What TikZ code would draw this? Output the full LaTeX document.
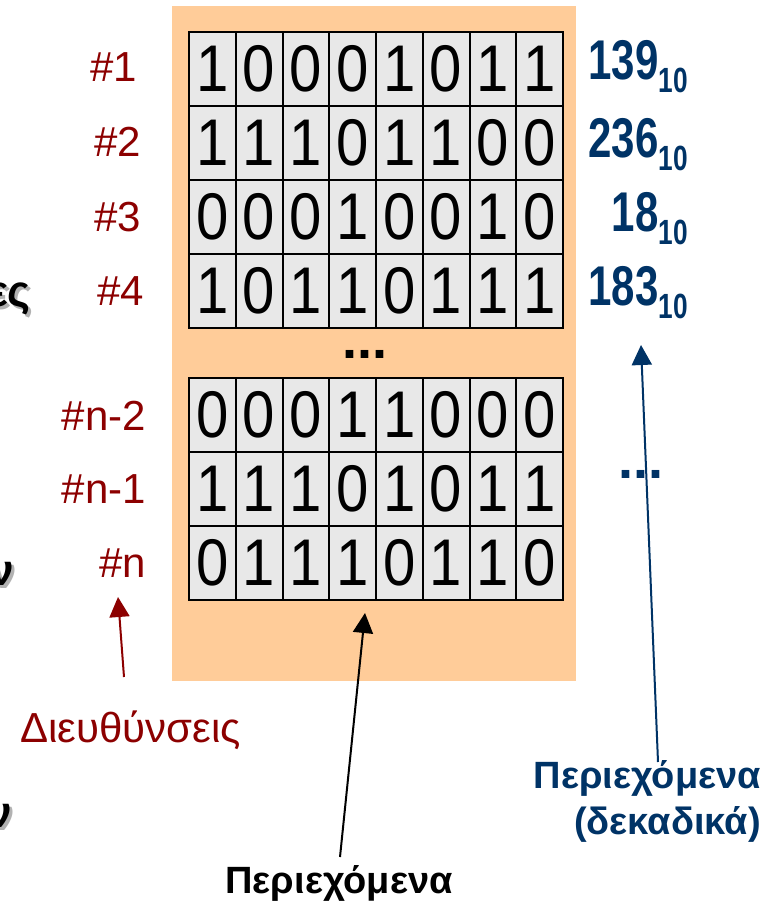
\documentclass[tikz,border=0pt]{standalone}
\usepackage{fontspec}
\setmainfont{Liberation Sans}
\newfontfamily\narrowfont{Liberation Sans}[FakeStretch=0.75]
\newfontfamily\bitfont{Liberation Sans}[FakeStretch=0.88]
\usepackage{tikz}
\usetikzlibrary{arrows.meta, positioning, calc}

\definecolor{addrred}{RGB}{140,0,0}
\definecolor{decblue}{RGB}{0,51,102}
\definecolor{memback}{RGB}{255,204,153}
\definecolor{cellgray}{RGB}{232,232,232}

\begin{document}
\begin{tikzpicture}[
        x=1pt, y=-1pt,
        bit/.style={
            rectangle,
            draw=black,
            fill=cellgray,
            line width=2pt,
            minimum width=46.75pt,
            minimum height=74pt,
            inner sep=0pt,
            font=\bitfont\fontsize{66}{66}\selectfont
        },
        addr/.style={
            anchor=base east,
            inner sep=0pt,
            text=addrred,
            font=\fontsize{42}{42}\selectfont
        },
        dec/.style={
            anchor=base east,
            inner sep=0pt,
            text=decblue,
            font=\narrowfont\bfseries\fontsize{56}{56}\selectfont
        },
        caption/.style={
            inner sep=0pt,
            font=\bfseries\fontsize{38}{38}\selectfont
        },
        cut/.style={
            anchor=base east,
            inner sep=0pt,
            font=\bfseries\fontsize{44}{44}\selectfont
        },
        pointer/.style={
            -{Triangle[length=20pt, width=20pt]},
            line width=2pt
        }
    ]

    \useasboundingbox (0,0) rectangle (772,901);

    % words cut off at the left edge
    \begin{scope}
        \clip (0,0) rectangle (772,901);
        \foreach \xx/\yy/\txt/\name in {31/306/ες/cuta, 14/585/ν/cutb, 12/827/ν/cutc} {
            \node[cut, text=black!30] at (\xx+3,\yy+3) {\txt};
            \node[cut] (\name) at (\xx,\yy) {\txt};
        }
    \end{scope}

    % memory block
    \fill[memback] (172,6) rectangle (576,681);

    \foreach \r/\yy/\bits in {1/69/{1,0,0,0,1,0,1,1},
                              2/143/{1,1,1,0,1,1,0,0},
                              3/217/{0,0,0,1,0,0,1,0},
                              4/291/{1,0,1,1,0,1,1,1},
                              5/415/{0,0,0,1,1,0,0,0},
                              6/489/{1,1,1,0,1,0,1,1},
                              7/563/{0,1,1,1,0,1,1,0}} {
        \foreach \b [count=\c] in \bits {
            \node[bit] (cell-\r-\c) at ({189+23.375+46.75*(\c-1)},\yy) {\b};
        }
    }

    \node[font=\bfseries\fontsize{54}{54}\selectfont, inner sep=0pt] (gap) at (365,354) {...};

    % addresses
    \node[addr] (a1) at (137,82)  {\#1};
    \node[addr] (a2) at (141,157) {\#2};
    \node[addr] (a3) at (141,232) {\#3};
    \node[addr] (a4) at (144,305) {\#4};
    \node[addr] (a5) at (146,430) {\#n-2};
    \node[addr] (a6) at (146,503) {\#n-1};
    \node[addr] (a7) at (146,577) {\#n};

    % decimal contents
    \node[dec] (d1) at (688,80)  {139\raisebox{-13pt}{\fontsize{35}{35}\selectfont 10}};
    \node[dec] (d2) at (688,158) {236\raisebox{-13pt}{\fontsize{35}{35}\selectfont 10}};
    \node[dec] (d3) at (688,232) {18\raisebox{-13pt}{\fontsize{35}{35}\selectfont 10}};
    \node[dec] (d4) at (688,305) {183\raisebox{-13pt}{\fontsize{35}{35}\selectfont 10}};
    \node[font=\bfseries\fontsize{54}{54}\selectfont, text=decblue, inner sep=0pt] (dgap) at (641,474) {...};

    % captions
    \node[anchor=base west, inner sep=0pt, text=addrred, font=\fontsize{42}{42}\selectfont] (addrcap) at (20,742) {Διευθύνσεις};
    \node[caption, anchor=base] (contcap) at (339,893) {Περιεχόμενα};
    \node[caption, anchor=base east, text=decblue] (deccap) at (761,788) {Περιεχόμενα};
    \node[caption, anchor=base east, text=decblue] (deccap2) at (761,834) {(δεκαδικά)};

    \coordinate (addrtail) at (124,677);
    \coordinate (conttail) at (340,857);
    \coordinate (dectail) at (658,762);

    \draw[pointer, addrred] (addrtail) -- (118,597);
    \draw[pointer, black] (conttail) -- (365,613);
    \draw[pointer, decblue] (dectail) -- (641,345);

\end{tikzpicture}
\end{document}
